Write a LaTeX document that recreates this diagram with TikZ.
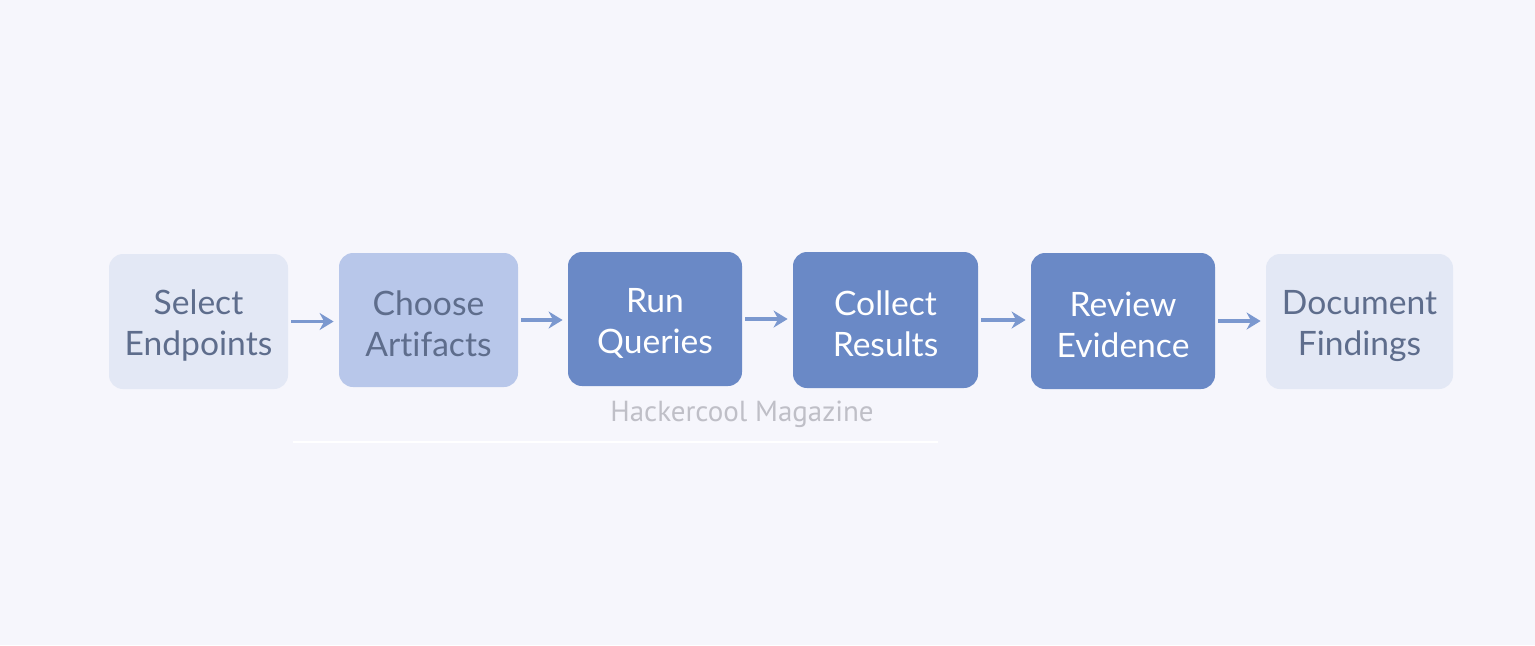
\documentclass[tikz,border=0pt]{standalone}
\usepackage{fontspec}
\setmainfont{Lato}[Ligatures={NoCommon,NoRare,NoDiscretionary}]
\newfontfamily\wmfont{PT Sans}
\usetikzlibrary{arrows.meta}
\definecolor{bgc}{HTML}{F6F6FC}
\definecolor{palefill}{HTML}{E3E8F5}
\definecolor{midfill}{HTML}{B8C7EA}
\definecolor{darkfill}{HTML}{6A89C6}
\definecolor{paletext}{HTML}{5E6D8C}
\definecolor{arrowc}{HTML}{7B98CF}
\definecolor{wmc}{HTML}{BFBFC7}
\newcommand{\topstrut}{\rule{0pt}{16.5pt}}
\tikzset{
  stepbox/.style={rounded corners=7pt, inner sep=0pt, align=center,
    font=\fontsize{16.8}{20.5}\selectfont},
  palebox/.style={stepbox, fill=palefill, text=paletext},
  midbox/.style={stepbox, fill=midfill, text=paletext},
  darkbox/.style={stepbox, fill=darkfill, text=white},
  flow/.style={draw=arrowc, line width=1.6pt, -{Stealth[length=7pt,width=8.5pt]}, shorten <=1.5pt, shorten >=2.5pt},
}
\begin{document}
\begin{tikzpicture}[x=0.5pt,y=-0.5pt]
\fill[bgc] (0,0) rectangle (1535,645);
\useasboundingbox (0,0) rectangle (1535,645);
\node[palebox, minimum width=89.5pt, minimum height=67.5pt] (a) at (198.5,321.5) {\topstrut Select\\Endpoints};
\node[midbox, minimum width=89.5pt, minimum height=67pt] (b) at (428.5,320) {\topstrut Choose\\Artifacts};
\node[darkbox, minimum width=87pt, minimum height=67pt] (c) at (655,319) {\topstrut Run\\Queries};
\node[darkbox, minimum width=92.5pt, minimum height=68pt] (d) at (885.5,320) {\topstrut Collect\\Results};
\node[darkbox, minimum width=92pt, minimum height=68pt] (e) at (1123,321) {\topstrut Review\\Evidence};
\node[palebox, minimum width=93.5pt, minimum height=67.5pt] (f) at (1359.5,321.5) {\topstrut Document\\Findings};
\draw[flow] (a.east) -- (b.west |- a.east);
\draw[flow] (b.east) -- (c.west |- b.east);
\draw[flow] (c.east) -- (d.west |- c.east);
\draw[flow] (d.east) -- (e.west |- d.east);
\draw[flow] (e.east) -- (f.west |- e.east);
\node[text=wmc, font=\wmfont\fontsize{14.5}{16}\selectfont, inner sep=0pt] (wm) at (742,414) {Hackercool Magazine};
\draw[white, line width=1pt] (293,442) -- (938,442);
\end{tikzpicture}
\end{document}
